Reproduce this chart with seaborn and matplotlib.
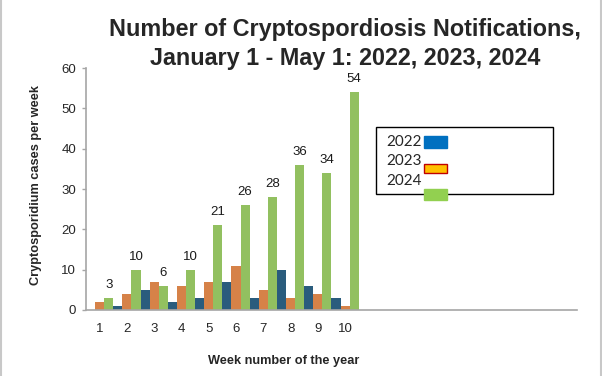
import numpy as np
import pandas as pd
import seaborn as sns
import matplotlib.pyplot as plt
from matplotlib.patches import Rectangle
from matplotlib.lines import Line2D

# data
weeks = ["1", "2", "3", "4", "5", "6", "7", "8", "9", "10"]
years = ["2022", "2023", "2024"]
cases_2022 = [0, 1, 5, 2, 3, 7, 3, 10, 6, 3]
cases_2023 = [2, 4, 7, 6, 7, 11, 5, 3, 4, 1]
cases_2024 = [3, 10, 6, 10, 21, 26, 28, 36, 34, 54]
n_slots = 18  # the x axis keeps room for 18 weeks

df = pd.DataFrame({
    "week": weeks * 3,
    "year": np.repeat(years, len(weeks)),
    "cases": cases_2022 + cases_2023 + cases_2024,
})

bar_colors = ["#1c5f8b", "#ed7d31", "#92d050"]
axis_grey = "#a6a6a6"

sns.set_style("white")
plt.rcParams["font.family"] = ["Liberation Sans", "DejaVu Sans"]

W, H = 602, 376
fig = plt.figure(figsize=(W / 100, H / 100), dpi=100)
ax = fig.add_axes([86 / W, 1 - 310 / H, (577 - 86) / W, (310 - 68) / H])


def fx(px):
    return px / W


def fy(py):
    return 1 - py / H


sns.barplot(data=df, x="week", y="cases", hue="year", order=weeks,
            hue_order=years, palette=bar_colors, width=1.0, gap=0,
            errorbar=None, linewidth=0, legend=False, ax=ax)

# labels only on the 2024 bars
ax.bar_label(ax.containers[2], padding=5, fontsize=9.5, color="#1a1a1a")

ax.set_xlim(-0.5, n_slots - 0.5)
ax.set_ylim(0, 60)
ax.set_yticks(range(0, 61, 10))
ax.set_xticks(range(len(weeks)))
ax.set_xticklabels(weeks)
ax.set_xticks(np.arange(-0.5, n_slots, 1), minor=True)
ax.tick_params(axis="x", which="major", length=0, pad=9, labelsize=9.5)
ax.tick_params(axis="x", which="minor", length=3, color=axis_grey, width=1)
ax.tick_params(axis="y", length=3, color=axis_grey, width=1, pad=4,
               labelsize=9.5, left=True)

for side in ["top", "right"]:
    ax.spines[side].set_visible(False)
for side in ["left", "bottom"]:
    ax.spines[side].set_color(axis_grey)
    ax.spines[side].set_linewidth(1.2)

ax.set_xlabel("Week number of the year", fontweight="bold", fontsize=9.2)
ax.xaxis.set_label_coords((284 - 86) / (577 - 86), -0.185)
ax.set_ylabel("Cryptosporidium cases per week", fontweight="bold", fontsize=9.2)
ax.yaxis.set_label_coords(-0.09, 0.517)

fig.text(fx(345), fy(44),
         "Number of Cryptospordiosis Notifications,\nJanuary 1 - May 1: 2022, 2023, 2024",
         ha="center", va="center", fontsize=16.8, fontweight="bold",
         linespacing=1.3)

# hand-built legend box, as in the original
fig.add_artist(Rectangle((fx(376), fy(194)), fx(553 - 376), (194 - 127) / H,
                         transform=fig.transFigure, fill=False,
                         edgecolor="black", linewidth=1))
legend_text_y = [142, 161, 181]
legend_patch_y = [(136, 148), (164, 173), (189, 200)]
legend_fill = ["#0070c0", "#ffc000", "#92d050"]
legend_edge = ["#0070c0", "#c00000", "#92d050"]
for yr, ty, (p0, p1), fc, ec in zip(years, legend_text_y, legend_patch_y,
                                    legend_fill, legend_edge):
    fig.text(fx(386), fy(ty), yr, ha="left", va="center", fontsize=11,
             family=["Lato", "DejaVu Sans"])
    fig.add_artist(Rectangle((fx(424), fy(p1)), fx(447 - 424), (p1 - p0) / H,
                             transform=fig.transFigure, facecolor=fc,
                             edgecolor=ec, linewidth=1))

# grey edges at the left and right of the picture
for x in [0.8, 600.5]:
    fig.add_artist(Line2D([fx(x), fx(x)], [0, 1], transform=fig.transFigure,
                          color="#c8c8c8", linewidth=1.5))

fig.savefig("out.png", dpi=100)
